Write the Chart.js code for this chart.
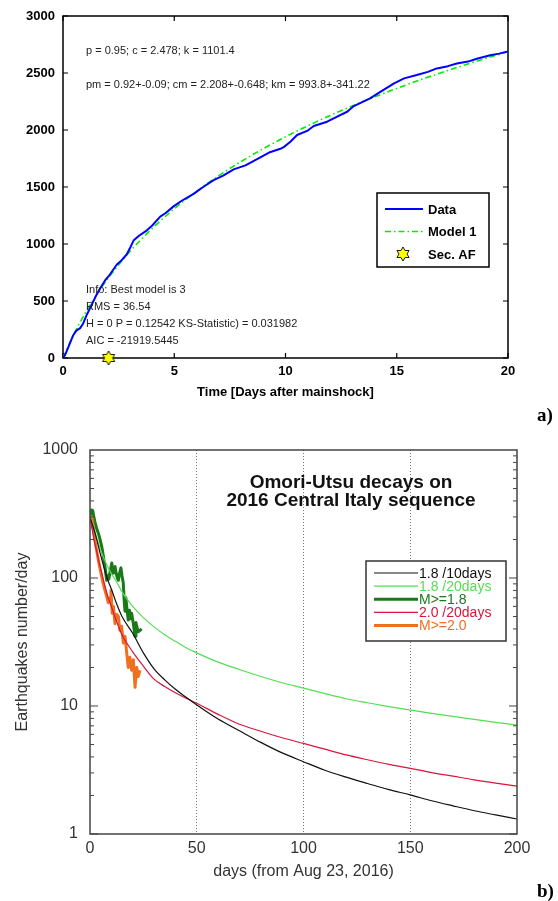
<!DOCTYPE html>
<html><head><meta charset="utf-8">
<script src="https://cdn.jsdelivr.net/npm/chart.js@4.4.0/dist/chart.umd.min.js"></script>
<style>
html,body{margin:0;padding:0;background:#fff;}
#wrap{position:relative;width:558px;height:901px;overflow:hidden;background:#fff;}
#ca{position:absolute;left:0;top:0;}
#cb{position:absolute;left:0;top:400px;}
.lab{position:absolute;font:bold 19px 'Liberation Serif','DejaVu Serif',serif;color:#000;line-height:24px;}
</style></head><body>
<div id="wrap">
<canvas id="ca" width="558" height="400"></canvas>
<canvas id="cb" width="558" height="501"></canvas>
<div class="lab" style="left:537px;top:403px;">a)</div>
<div class="lab" style="left:537px;top:879px;">b)</div>
</div>
<script>
// ---------- Panel a data ----------
const aDays = [0,0.1,0.25,0.46,0.6,0.77,0.9,1.07,1.3,1.52,1.7,1.89,2.1,2.42,2.6,2.87,3.0,3.17,3.4,3.77,4.0,4.37,4.6,4.97,5.3,5.87,6.3,6.77,7.2,7.67,8.2,8.87,9.3,9.77,9.92,10.22,10.52,11.0,11.27,11.87,12.3,12.77,13.07,13.8,14.28,14.88,15.33,15.9,16.4,16.8,17.3,17.7,18.2,18.6,19.2,19.6,20.0];
const aData = [0,30,100,200,240,262,300,380,470,560,620,680,730,820,850,910,960,1030,1070,1120,1160,1240,1270,1330,1375,1440,1500,1560,1600,1655,1690,1760,1805,1835,1850,1897,1956,1995,2035,2073,2115,2160,2210,2277,2336,2409,2453,2482,2510,2540,2560,2584,2600,2625,2655,2670,2688];
const aModelDays = [0,0.5,1,1.5,2,3,4,5,6,7,8,9,10,11,12,13,14,15,16,17,18,19,20];
const aModel = [0,213,394,552,692,933,1134,1309,1462,1599,1723,1836,1940,2037,2127,2211,2290,2365,2436,2503,2567,2628,2687];
const aSecAFDay = [2.05];
const aSecAFValue = [0];
const aXTicks = [0,5,10,15,20];
const aYTicks = [0,500,1000,1500,2000,2500,3000];
const aTopText = ['p = 0.95; c = 2.478; k = 1101.4', 'pm = 0.92+-0.09; cm = 2.208+-0.648; km = 993.8+-341.22'];
const aInfoText = ['Info: Best model is 3', 'RMS = 36.54', 'H = 0 P = 0.12542 KS-Statistic) = 0.031982', 'AIC = -21919.5445'];
const aLegend = ['Data', 'Model 1', 'Sec. AF'];

// ---------- Panel b data ----------
const bFitDays = [0,1,2,3,5,8,10,12,15,20,25,30,35,40,45,50,60,70,80,90,100,110,120,130,140,150,160,170,180,190,200];
const b18_10 = [300,265,235,205,150,100,82,66,50,37,26,19.5,16,13.5,11.7,10.2,7.9,6.4,5.2,4.3,3.67,3.15,2.78,2.48,2.22,2.02,1.82,1.66,1.52,1.41,1.31];
const b18_20 = [310,270,240,210,165,125,108,96,78,60,49,41.5,36,32,28.5,26,22,19.3,17,15.2,13.8,12.5,11.4,10.6,9.9,9.3,8.75,8.3,7.85,7.45,7.1];
const b20_20 = [290,240,195,165,118,75,60,48,36,26.5,20.5,16.2,14.2,12.7,11.5,10.5,8.6,7.2,6.35,5.65,5.1,4.6,4.15,3.8,3.5,3.26,3.02,2.83,2.65,2.5,2.37];
const bM18Days = [0,0.4,0.8,1.3,1.8,2.3,3.1,3.9,4.7,5.5,6.2,7.0,7.5,7.8,8.3,8.8,9.4,10.2,10.6,10.9,11.3,11.7,12.3,12.8,13.3,13.9,14.5,15.0,15.6,16.0,16.4,16.8,17.2,17.9,18.5,19.1,19.5,20.3,21.1,21.5,21.9,22.6,23.4,24.2];
const bM18 = [290,320,340,335,300,275,245,224,200,176,150,123,105,96,104,98,112,131,115,109,118,123,108,100,96,110,120,104,91,67,55,70,60,47,56,48,53,44,35,45,42,38,39,40];
const bM20Days = [0,0.4,0.8,1.3,1.8,2.3,3.1,3.9,4.7,5.5,6.2,7.0,7.8,8.6,9.4,9.8,10.4,11.0,11.7,12.5,13.3,14.0,14.8,15.6,16.4,17.2,17.9,18.7,19.5,20.3,21.1,21.9,22.6,23.4];
const bM20 = [285,300,301,270,230,198,165,138,118,102,90,80,72,64,70,80,53,60,44,52,50,39,42,31,35,26,20,24,19,23,14,20,17,19];
const bXTicks = [0,50,100,150,200];
const bYLabels = [1,10,100,1000];
const bTitle = ['Omori-Utsu decays on', '2016 Central Italy sequence'];
const bLegend = ['1.8 /10days', '1.8 /20days', 'M>=1.8', '2.0 /20days', 'M>=2.0'];

const pts = (xs, ys) => xs.map((x, i) => ({x: x, y: ys[i]}));

// hexagram marker
function hexStar(r) {
  const c = document.createElement('canvas');
  const s = Math.ceil(r * 2 + 4);
  c.width = s; c.height = s;
  const g = c.getContext('2d');
  const cx = s / 2, cy = s / 2;
  g.beginPath();
  for (let i = 0; i < 12; i++) {
    const ang = -Math.PI / 2 + i * Math.PI / 6;
    const rr = i % 2 === 0 ? r : r * 0.577;
    const px = cx + rr * Math.cos(ang), py = cy + rr * Math.sin(ang);
    if (i) g.lineTo(px, py); else g.moveTo(px, py);
  }
  g.closePath();
  g.fillStyle = '#ffff00'; g.fill();
  g.strokeStyle = '#000'; g.lineWidth = 0.9; g.stroke();
  return c;
}
const starImg = hexStar(7);

Chart.defaults.font.family = "Arial, 'Liberation Sans', Helvetica, sans-serif";
Chart.defaults.animation = false;

// ---------- Panel a ----------
const plugA = {
  id: 'plugA',
  beforeDatasetsDraw(chart) {
    const {ctx, chartArea: a, scales: {x, y}} = chart;
    ctx.save();
    ctx.strokeStyle = '#000'; ctx.lineWidth = 1.5;
    ctx.strokeRect(a.left, a.top, a.right - a.left, a.bottom - a.top);
    ctx.lineWidth = 1.2;
    ctx.beginPath();
    aXTicks.forEach(v => {
      const px = x.getPixelForValue(v);
      ctx.moveTo(px, a.bottom); ctx.lineTo(px, a.bottom - 5);
      ctx.moveTo(px, a.top); ctx.lineTo(px, a.top + 5);
    });
    aYTicks.forEach(v => {
      const py = y.getPixelForValue(v);
      ctx.moveTo(a.left, py); ctx.lineTo(a.left + 5, py);
      ctx.moveTo(a.right, py); ctx.lineTo(a.right - 5, py);
    });
    ctx.stroke();
    ctx.restore();
  },
  afterDatasetsDraw(chart) {
    const {ctx, chartArea: a} = chart;
    ctx.save();
    ctx.fillStyle = '#222';
    ctx.font = "11px Arial, 'Liberation Sans', sans-serif";
    ctx.textBaseline = 'middle';
    ctx.textAlign = 'left';
    const tx = a.left + 23;
    ctx.fillText(aTopText[0], tx, a.top + 35);
    ctx.fillText(aTopText[1], tx, a.top + 69);
    aInfoText.forEach((t, i) => ctx.fillText(t, tx, a.top + 274 + i * 17));
    // legend
    const lx = 377, ly = 193, lw = 112, lh = 74;
    ctx.fillStyle = '#fff';
    ctx.fillRect(lx, ly, lw, lh);
    ctx.strokeStyle = '#000'; ctx.lineWidth = 1.5;
    ctx.strokeRect(lx, ly, lw, lh);
    const rows = [209, 231.5, 254];
    ctx.lineWidth = 2; ctx.strokeStyle = '#0000ff';
    ctx.beginPath(); ctx.moveTo(385, rows[0]); ctx.lineTo(423, rows[0]); ctx.stroke();
    ctx.lineWidth = 1.5; ctx.strokeStyle = '#00ee00'; ctx.setLineDash([6, 3, 1.5, 3]);
    ctx.beginPath(); ctx.moveTo(385, rows[1]); ctx.lineTo(423, rows[1]); ctx.stroke();
    ctx.setLineDash([]);
    ctx.drawImage(starImg, 403 - starImg.width / 2, rows[2] - starImg.height / 2);
    ctx.fillStyle = '#000';
    ctx.font = "bold 13px Arial, 'Liberation Sans', sans-serif";
    aLegend.forEach((t, i) => ctx.fillText(t, 428, rows[i] + 1));
    ctx.restore();
  }
};

new Chart(document.getElementById('ca'), {
  type: 'line',
  data: {
    datasets: [
      {label: aLegend[0], data: pts(aDays, aData), borderColor: '#0000ff', borderWidth: 2, pointRadius: 0, tension: 0, fill: false, borderJoinStyle: 'round'},
      {label: aLegend[1], data: pts(aModelDays, aModel), borderColor: '#00ee00', borderWidth: 1.6, borderDash: [6, 3, 1.5, 3], pointRadius: 0, cubicInterpolationMode: 'monotone', fill: false},
      {label: aLegend[2], data: pts(aSecAFDay, aSecAFValue), showLine: false, pointStyle: starImg, pointRadius: 7, clip: false}
    ]
  },
  options: {
    responsive: false,
    devicePixelRatio: 1,
    layout: {padding: {left: 0, top: 16, right: 50, bottom: 0}},
    plugins: {legend: {display: false}, tooltip: {enabled: false}},
    scales: {
      x: {
        type: 'linear', min: 0, max: 20,
        afterBuildTicks: s => { s.ticks = aXTicks.map(v => ({value: v})); },
        afterFit: s => { s.height = 42; },
        grid: {display: false, drawTicks: false},
        border: {display: false},
        ticks: {color: '#000', font: {size: 13, weight: 'bold'}, padding: 6, maxRotation: 0, callback: v => String(v)},
        title: {display: true, text: 'Time [Days after mainshock]', color: '#000', font: {size: 13, weight: 'bold'}, padding: {top: 0, bottom: 0}}
      },
      y: {
        type: 'linear', min: 0, max: 3000,
        afterBuildTicks: s => { s.ticks = aYTicks.map(v => ({value: v})); },
        afterFit: s => { s.width = 63; },
        grid: {display: false, drawTicks: false},
        border: {display: false},
        ticks: {color: '#000', font: {size: 13, weight: 'bold'}, padding: 8, callback: v => String(v)}
      }
    }
  },
  plugins: [plugA]
});

// ---------- Panel b ----------
const bColors = ['#111111', '#55dd55', '#1a7a1a', '#d8163c', '#f07020'];
const bWidths = [1.2, 1.2, 3, 1.2, 3];
const plugB = {
  id: 'plugB',
  afterDatasetsDraw(chart) {
    const {ctx, chartArea: a, scales: {y}} = chart;
    ctx.save();
    ctx.strokeStyle = '#444'; ctx.lineWidth = 1.5;
    ctx.strokeRect(a.left, a.top, a.right - a.left, a.bottom - a.top);
    ctx.lineWidth = 1;
    ctx.beginPath();
    [1, 10, 100].forEach(d => {
      for (let m = 1; m <= 9; m++) {
        const py = y.getPixelForValue(m * d);
        const len = m === 1 ? 8 : 4;
        ctx.moveTo(a.left, py); ctx.lineTo(a.left + len, py);
        ctx.moveTo(a.right, py); ctx.lineTo(a.right - len, py);
      }
    });
    ctx.stroke();
    // title
    ctx.fillStyle = '#111';
    ctx.font = "bold 19px Arial, 'Liberation Sans', sans-serif";
    ctx.textAlign = 'center'; ctx.textBaseline = 'middle';
    ctx.fillText(bTitle[0], 351, 83);
    ctx.fillText(bTitle[1], 351, 101);
    // legend
    const lx = 366, ly = 161, lw = 140, lh = 80;
    ctx.fillStyle = '#fff'; ctx.fillRect(lx, ly, lw, lh);
    ctx.strokeStyle = '#333'; ctx.lineWidth = 1.5; ctx.strokeRect(lx, ly, lw, lh);
    ctx.textAlign = 'left';
    ctx.font = "14px Arial, 'Liberation Sans', sans-serif";
    bLegend.forEach((t, i) => {
      const ry = 173 + i * 13.1;
      ctx.strokeStyle = bColors[i]; ctx.lineWidth = bWidths[i];
      ctx.beginPath(); ctx.moveTo(374, ry); ctx.lineTo(418, ry); ctx.stroke();
      ctx.fillStyle = bColors[i];
      ctx.fillText(t, 419, ry + 1);
    });
    ctx.restore();
  }
};

new Chart(document.getElementById('cb'), {
  type: 'line',
  data: {
    datasets: [
      {label: bLegend[0], data: pts(bFitDays, b18_10), borderColor: bColors[0], borderWidth: bWidths[0], pointRadius: 0, cubicInterpolationMode: 'monotone', fill: false},
      {label: bLegend[1], data: pts(bFitDays, b18_20), borderColor: bColors[1], borderWidth: bWidths[1], pointRadius: 0, cubicInterpolationMode: 'monotone', fill: false},
      {label: bLegend[3], data: pts(bFitDays, b20_20), borderColor: bColors[3], borderWidth: bWidths[3], pointRadius: 0, cubicInterpolationMode: 'monotone', fill: false},
      {label: bLegend[4], data: pts(bM20Days, bM20), borderColor: bColors[4], borderWidth: bWidths[4], pointRadius: 0, tension: 0, fill: false, borderJoinStyle: 'round'},
      {label: bLegend[2], data: pts(bM18Days, bM18), borderColor: bColors[2], borderWidth: bWidths[2], pointRadius: 0, tension: 0, fill: false, borderJoinStyle: 'round'}
    ]
  },
  options: {
    responsive: false,
    devicePixelRatio: 1,
    layout: {padding: {left: 0, top: 50, right: 41, bottom: 0}},
    plugins: {legend: {display: false}, tooltip: {enabled: false}},
    scales: {
      x: {
        type: 'linear', min: 0, max: 200,
        afterBuildTicks: s => { s.ticks = bXTicks.map(v => ({value: v})); },
        afterFit: s => { s.height = 67; },
        grid: {
          drawTicks: false, drawOnChartArea: true,
          color: c => (c.tick && (c.tick.value === 0 || c.tick.value === 200)) ? 'rgba(0,0,0,0)' : '#777',
          lineWidth: 1
        },
        border: {display: false, dash: [1, 2]},
        ticks: {color: '#333', font: {size: 16}, padding: 5, maxRotation: 0, callback: v => String(v)},
        title: {display: true, text: 'days (from Aug 23, 2016)', color: '#333', font: {size: 16}, padding: {top: 0, bottom: 20}}
      },
      y: {
        type: 'logarithmic', min: 1, max: 1000,
        afterBuildTicks: s => { s.ticks = bYLabels.map(v => ({value: v})); },
        afterFit: s => { s.width = 90; },
        grid: {display: false, drawTicks: false},
        border: {display: false},
        ticks: {color: '#333', font: {size: 16}, padding: 12, autoSkip: false, callback: v => String(v)},
        title: {display: true, text: 'Earthquakes number/day', color: '#333', font: {size: 16}, padding: {top: 13, bottom: 0}}
      }
    }
  },
  plugins: [plugB]
});
</script>
</body></html>
